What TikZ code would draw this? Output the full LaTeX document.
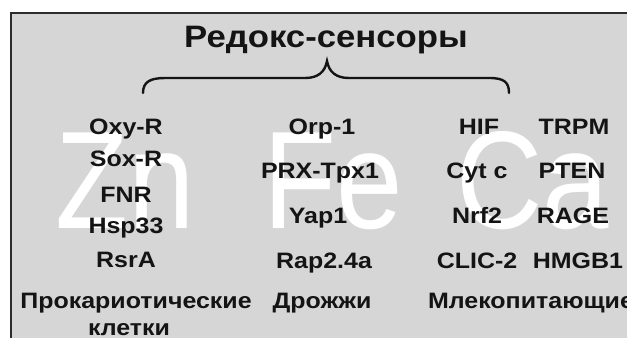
\documentclass[tikz,border=0pt]{standalone}
\usepackage{fontspec}
\setmainfont{Liberation Sans}[FakeStretch=1.12]
\newfontfamily\metalfont{Liberation Sans}[FakeStretch=0.86]
\begin{document}
\begin{tikzpicture}[x=1pt,y=-1pt,
  item/.style={font=\bfseries\fontsize{22.3}{26}\selectfont, text=ink, inner sep=0pt, anchor=base},
  metal/.style={font=\metalfont\fontsize{139}{139}\selectfont, text=white, inner sep=0pt, anchor=base west},
  title/.style={font=\bfseries\fontsize{31}{36}\selectfont, text=ink, inner sep=0pt, anchor=base}]
\definecolor{ink}{HTML}{141414}
\definecolor{panel}{HTML}{D6D6D6}
\definecolor{frame}{HTML}{2C2C2C}
\useasboundingbox (0,0) rectangle (627,338);
\fill[white] (0,0) rectangle (627,338);
\fill[panel] (11,13) rectangle (627,338);
\draw[frame, line width=1.8pt] (11,338) -- (11,13) -- (627,13);
% background element symbols
\node[metal] (zn) at (55,228) {Zn};
\node[metal] (fe) at (263,228) {Fe};
\node[metal] (ca) at (456,228) {Ca};
% heading and brace
\node[title] (head) at (326,47) {Редокс-сенсоры};
\draw[ink, line width=2.4pt, line cap=round]
  (143,93) .. controls (143,82) and (150,78) .. (165,78) -- (305,78)
  .. controls (318,78) and (325,72) .. (327,61)
  .. controls (329,72) and (336,78) .. (349,78) -- (489,78)
  .. controls (504,78) and (509,82) .. (509,93);
% prokaryotes
\node[item] (oxyr) at (126,134) {Oxy-R};
\node[item] (soxr) at (126,166) {Sox-R};
\node[item] (fnr) at (126,202) {FNR};
\node[item] (hsp) at (126,233) {Hsp33};
\node[item] (rsra) at (126,267) {RsrA};
\node[item] (prok) at (136,308) {Прокариотические};
\node[item] (cells) at (129,335) {клетки};
% yeast
\node[item] (orp) at (322,134) {Orp-1};
\node[item] (prx) at (320,178) {PRX-Tpx1};
\node[item] (yap) at (318,223) {Yap1};
\node[item] (rap) at (324,268) {Rap2.4a};
\node[item] (yeast) at (322,308) {Дрожжи};
% mammals
\node[item] (hif) at (479,134) {HIF};
\node[item] (cytc) at (477,178) {Cyt c};
\node[item] (nrf) at (477,223) {Nrf2};
\node[item] (clic) at (477,268) {CLIC-2};
\node[item] (trpm) at (574,134) {TRPM};
\node[item] (pten) at (572,178) {PTEN};
\node[item] (rage) at (573,223) {RAGE};
\node[item] (hmgb) at (578,268) {HMGB1};
\node[item] (mamm) at (531,308) {Млекопитающие};
\end{tikzpicture}
\end{document}
